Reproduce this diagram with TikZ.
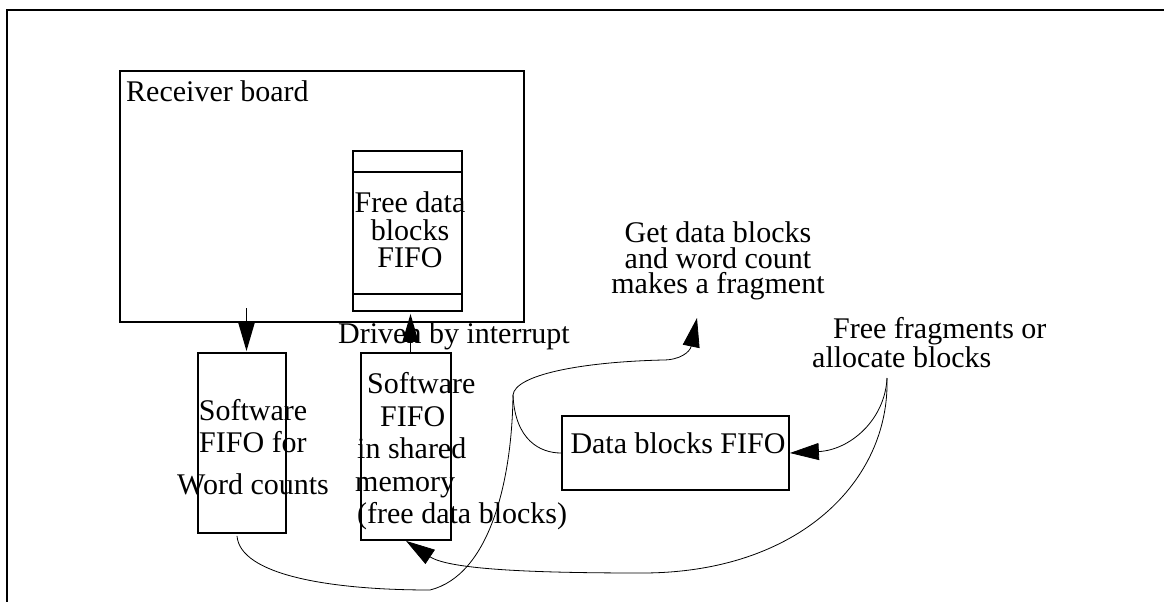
\documentclass[tikz,border=0pt]{standalone}
\usepackage{fontspec}
\setmainfont{Liberation Serif}
\usetikzlibrary{arrows.meta,calc}

\begin{document}
\begin{tikzpicture}[x=1pt,y=-1pt,
  box/.style={draw,line width=1.8pt,inner sep=0pt},
  lbl/.style={inner sep=0pt,font=\fontsize{30}{26}\selectfont},
  bigarrow/.style={line width=1.4pt,-{Triangle[length=28pt,width=16pt]}},
  flow/.style={line width=0.8pt},
  flowarrow/.style={flow,-{Triangle[length=29pt,width=17pt]}}]

\useasboundingbox (0,0) rectangle (1164,602);

% page frame
\draw[line width=1.3pt] (7,602) -- (7,10) -- (1164,10);

% boxes
\node[box,minimum width=404pt,minimum height=251pt] (rb) at (322,196.5) {};
\node[box,minimum width=109pt,minimum height=160pt] (ff) at (407.5,231) {};
\draw[line width=1.8pt] ($(ff.north west)+(0,22)$) -- ($(ff.north east)+(0,22)$);
\draw[line width=1.8pt] ($(ff.south west)+(0,-18)$) -- ($(ff.south east)+(0,-18)$);
\node[box,minimum width=88pt,minimum height=180pt] (wc) at (242,443) {};
\node[box,minimum width=90pt,minimum height=187pt] (sh) at (406,446.5) {};
\node[box,minimum width=227pt,minimum height=74pt] (db) at (675.5,453) {};

% labels
\node[lbl,anchor=base west] (rbl) at (126,101) {Receiver board};
\node[lbl,anchor=north,align=center,font=\fontsize{30}{27.5}\selectfont] (ffl) at (410,191.5) {Free data\\blocks\\FIFO};
\node[lbl,anchor=base] (dri) at (454,343) {Driven by interrupt};
\node[lbl,anchor=north,align=center,font=\fontsize{30}{32}\selectfont] (wcl) at (253,399.5) {Software\\FIFO for\\[10pt]Word counts};
\node[lbl,anchor=north west,align=left,font=\fontsize{30}{32.5}\selectfont] (shl) at (355,372.5)
  {\hspace*{12pt}Software\\\hspace*{25pt}FIFO\\\hspace*{2pt}in shared\\memory\\\hspace*{2pt}(free data blocks)};
\node[lbl,anchor=base] (dbl) at (678,453) {Data blocks FIFO};
\node[lbl,anchor=north,align=center,font=\fontsize{30}{25.5}\selectfont] (gd) at (718,221.5) {Get data blocks\\and word count\\makes a fragment};
\node[lbl,anchor=north west,align=left,font=\fontsize{30}{25}\selectfont] (fr) at (812,317.5) {\hspace*{21pt}Free fragments or\\allocate blocks};

% straight arrows
\draw[bigarrow] ($(wc.north)+(4.5,-44)$) -- ($(wc.north)+(4.5,-1)$);
\draw[bigarrow] ($(ff.south |- sh.north)+(3,0)$) -- ($(ff.south)+(3,2)$);

% data flow curves
\coordinate (J) at (513,395);
\coordinate (F) at (887,378);
\coordinate (gdtip) at (697,318);
\coordinate (low) at (430,590);
\coordinate (bend1) at (663,360);
\coordinate (low2) at (642,573);
\draw[flow] ($(wc.south)+(-5,2)$) .. controls (240,575) and (330,590) .. (low)
  .. controls (490,575) and (512,480) .. (J);
\draw[flowarrow] (J) .. controls (515,375) and (580,362) .. (bend1)
  .. controls (680,360) and (690,352) .. (gdtip);
\draw[flow] (J) .. controls (515,440) and (540,453) .. (db.west);
\draw[flowarrow] (F) .. controls (885,420) and (850,450) .. (db.east);
\draw[flowarrow] (F) .. controls (890,480) and (800,573) .. (low2)
  .. controls (540,573) and (450,570) .. (sh.south);
\end{tikzpicture}
\end{document}
